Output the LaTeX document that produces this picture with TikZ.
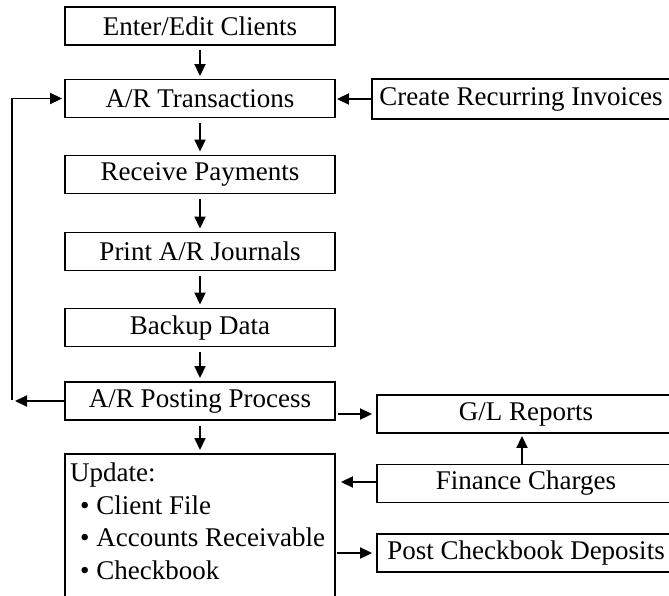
\documentclass[tikz,border=0pt]{standalone}
\usepackage{fontspec}
\setmainfont{Liberation Serif}
\usetikzlibrary{arrows.meta}
\tikzset{
  box/.style={draw, line width=1.9pt, inner sep=0pt, minimum height=38pt, font=\fontsize{27}{33}\selectfont},
  lbox/.style={box, minimum width=270pt},
  rbox/.style={box, minimum width=298pt},
  utext/.style={anchor=base west, inner sep=0pt, font=\fontsize{27}{33}\selectfont},
  arr/.style={line width=1.9pt, -{Triangle[length=12pt,width=11pt]}},
  ln/.style={line width=1.9pt}
}
\begin{document}
\begin{tikzpicture}[x=1pt,y=-1pt]
\useasboundingbox (0,0) rectangle (669,595);
\clip (0,0) rectangle (669,595);
% left column
\node[lbox] (ent) at (200,26) {Enter/Edit Clients};
\node[lbox] (art) at (200,98.5) {A/R Transactions};
\node[lbox] (rec) at (200,174.5) {Receive Payments};
\node[lbox] (prt) at (200,251.5) {Print A/R Journals};
\node[lbox] (bak) at (200,327.5) {Backup Data};
\node[lbox] (pst) at (200,401) {A/R Posting Process};
\node[lbox, minimum height=190pt, anchor=north] (upd) at (200,453) {};
\node[utext] (u0) at (70,481) {Update:};
\node[utext] (u1) at (80,514) {\textbullet{} Client File};
\node[utext] (u2) at (80,546.5) {\textbullet{} Accounts Receivable};
\node[utext] (u3) at (80,579) {\textbullet{} Checkbook};
% right column
\node[rbox, minimum height=40pt] (cri) at (521,99) {Create Recurring Invoices};
\node[rbox] (gl) at (526,414) {G/L Reports};
\node[rbox] (fin) at (526,483.5) {Finance Charges};
\node[rbox] (pcd) at (526,553) {Post Checkbook Deposits};
% loop coordinates
\coordinate (lp) at (12,401);
% vertical chain
\draw[arr, shorten <=4pt, shorten >=2.5pt] (ent) -- (art);
\draw[arr, shorten <=5pt, shorten >=3pt] (art) -- (rec);
\draw[arr, shorten <=5pt, shorten >=3pt] (rec) -- (prt);
\draw[arr, shorten <=5pt, shorten >=3pt] (prt) -- (bak);
\draw[arr, shorten <=5pt, shorten >=3pt] (bak) -- (pst);
\draw[arr, shorten <=5pt, shorten >=3pt] (pst) -- (upd);
% feedback loop
\draw[arr, shorten >=3pt] (pst.west) -- (lp);
\draw[arr, shorten >=2pt] ([yshift=1pt]lp) |- (art.west);
% right side connectors
\draw[arr, shorten >=1pt] (cri.west) -- (cri.west -| art.east);
\draw[arr, shorten <=2pt, shorten >=4pt] (pst.east |- gl.west) -- (gl.west);
\draw[arr, shorten >=2pt] ([xshift=-4pt]fin.north) -- ([xshift=-4pt]gl.south);
\draw[arr, shorten >=5pt] ([yshift=1.5pt]fin.west) -- ([yshift=1.5pt]fin.west -| upd.east);
\draw[arr, shorten <=1pt, shorten >=4pt] (pcd.west -| upd.east) -- (pcd.west);
\end{tikzpicture}
\end{document}
